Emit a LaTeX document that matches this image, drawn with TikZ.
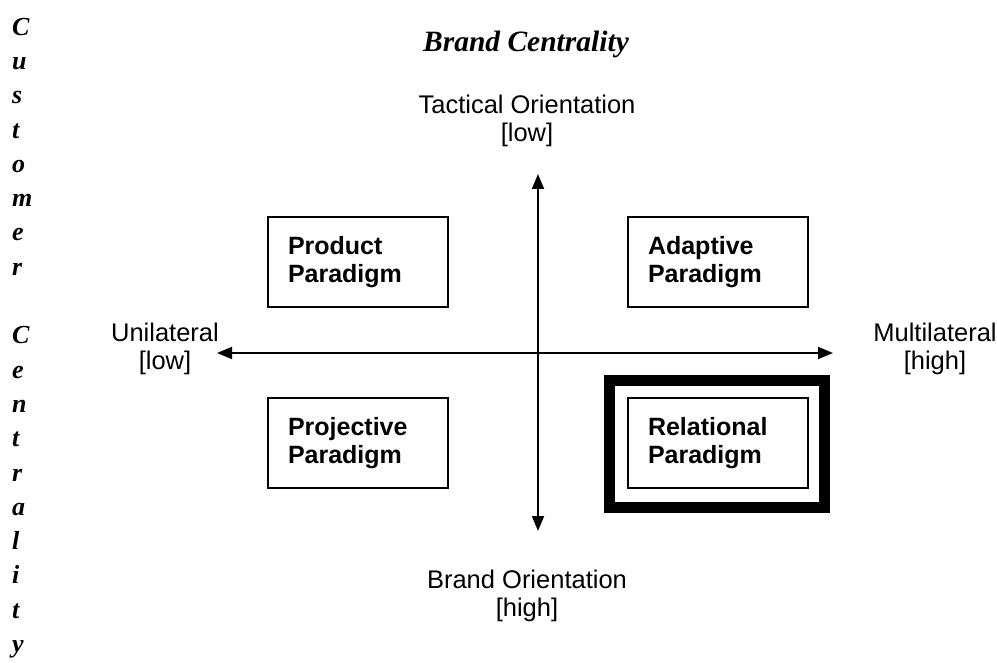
\documentclass[tikz,border=0pt]{standalone}
\usepackage{fontspec}
\setmainfont{Liberation Serif}
\setsansfont{Liberation Sans}
\usetikzlibrary{arrows.meta}
\begin{document}
\begin{tikzpicture}[x=1pt,y=-1pt,
  paradigm/.style={draw, line width=1.8pt, minimum width=180pt, minimum height=90pt,
    inner xsep=20pt, text width=140pt, align=left,
    font=\fontsize{25}{28.5}\selectfont\sffamily\bfseries},
  axislabel/.style={align=center, font=\fontsize{25.5}{27.5}\selectfont\sffamily},
  axis/.style={line width=1.8pt, {Triangle[length=15pt,width=12pt]}-{Triangle[length=15pt,width=12pt]}},
  heading/.style={font=\fontsize{29.5}{34}\selectfont\rmfamily\bfseries\itshape}]
\useasboundingbox (0,0) rectangle (997,663);

% title and side caption
\node[heading] (title) at (526,44) {Brand Centrality};
\node[heading, anchor=west, align=left, inner xsep=0pt,
  font=\fontsize{26}{34.3}\selectfont\rmfamily\bfseries\itshape]
  (side) at (12,338) {C\\u\\s\\t\\o\\m\\e\\r\\\strut\\C\\e\\n\\t\\r\\a\\l\\i\\t\\y};

% axes
\coordinate (vtop) at (538,174);
\coordinate (vbot) at (538,531);
\coordinate (hleft) at (217,353);
\coordinate (hright) at (833,353);
\draw[axis] (vbot) -- (vtop);
\draw[axis] (hleft) -- (hright);

% axis labels
\node[axislabel] (top) at (527,121) {Tactical Orientation\\{[low]}};
\node[axislabel] (bottom) at (527,596) {Brand Orientation\\{[high]}};
\node[axislabel] (left) at (165,349) {Unilateral\\{[low]}};
\node[axislabel] (right) at (935,349) {Multilateral\\{[high]}};

% quadrants
\node[paradigm] (product) at (358,262) {Product\\Paradigm};
\node[paradigm] (adaptive) at (718,262) {Adaptive\\Paradigm};
\node[paradigm] (projective) at (358,443) {Projective\\Paradigm};
\node[paradigm] (relational) at (718,443) {Relational\\Paradigm};

% emphasis frame around the relational quadrant
\draw[line width=11pt] (609.5,380.5) rectangle (824.5,507.5);
\end{tikzpicture}
\end{document}
